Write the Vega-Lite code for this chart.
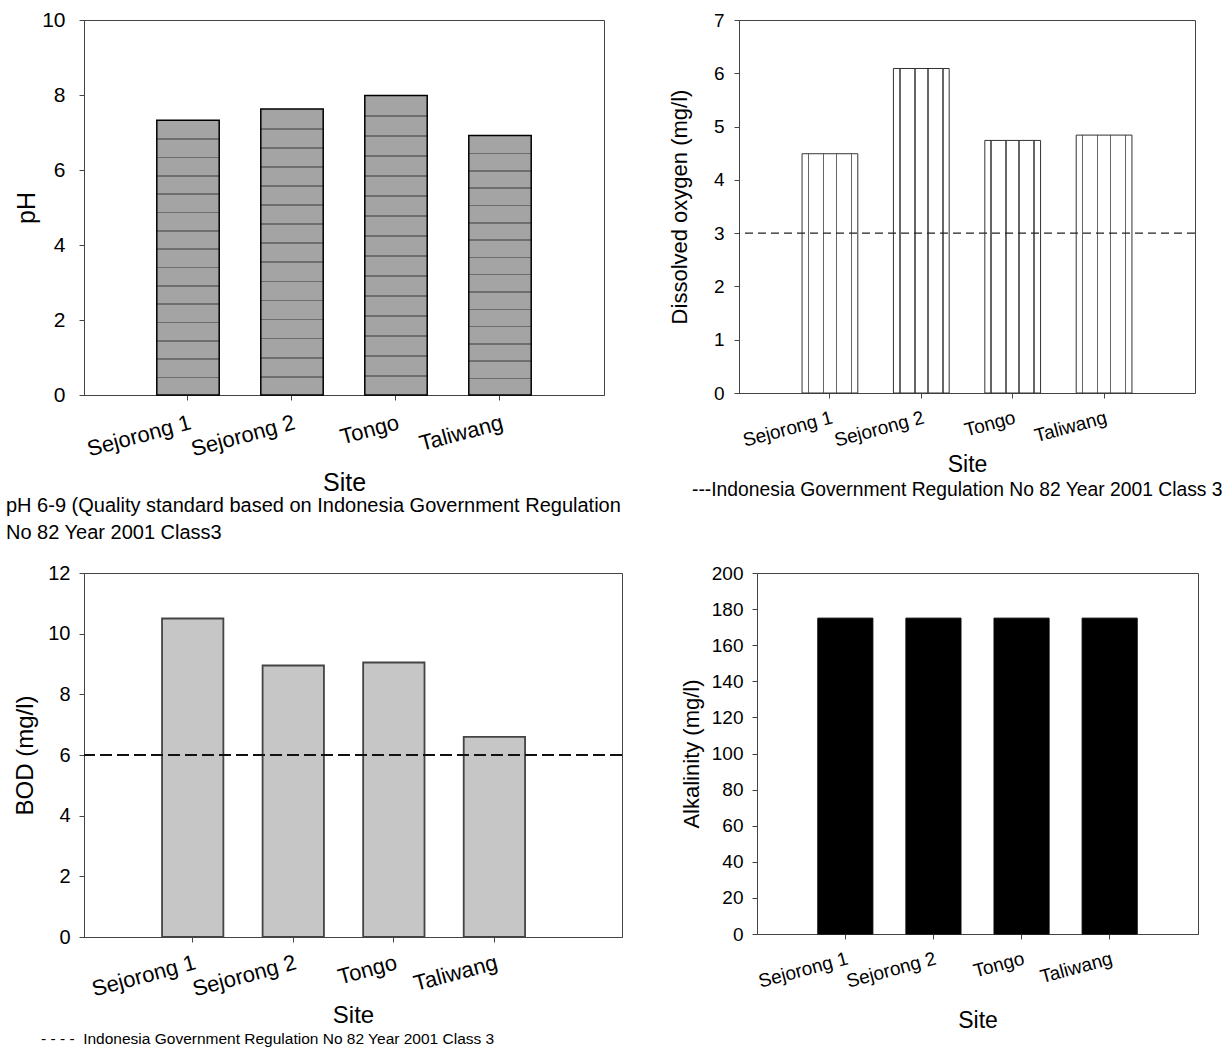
{
  "$schema": "https://vega.github.io/schema/vega-lite/v6.json",
  "background": "white",
  "padding": {"left": 5, "top": 8, "right": 5, "bottom": 5},
  "config": {
    "font": "Liberation Sans",
    "view": {"stroke": "#444", "strokeWidth": 1},
    "axis": {"grid": false, "domainColor": "#444", "tickColor": "#444", "labelColor": "black", "titleColor": "black", "titleFontWeight": "normal", "labelFont": "Liberation Sans", "titleFont": "Liberation Sans", "tickSize": 5},
    "title": {"fontWeight": "normal", "color": "black", "font": "Liberation Sans"}
  },
  "datasets": {
    "ph": [
      {"site": "Sejorong 1", "value": 7.33},
      {"site": "Sejorong 2", "value": 7.63},
      {"site": "Tongo", "value": 7.99},
      {"site": "Taliwang", "value": 6.92}
    ],
    "do": [
      {"site": "Sejorong 1", "value": 4.49},
      {"site": "Sejorong 2", "value": 6.09},
      {"site": "Tongo", "value": 4.74},
      {"site": "Taliwang", "value": 4.84}
    ],
    "bod": [
      {"site": "Sejorong 1", "value": 10.5},
      {"site": "Sejorong 2", "value": 8.95},
      {"site": "Tongo", "value": 9.05},
      {"site": "Taliwang", "value": 6.6}
    ],
    "alk": [
      {"site": "Sejorong 1", "value": 175},
      {"site": "Sejorong 2", "value": 175},
      {"site": "Tongo", "value": 175},
      {"site": "Taliwang", "value": 175}
    ],
    "do_std": [{"value": 3}],
    "bod_std": [{"value": 6}]
  },
  "spacing": 18,
  "vconcat": [
    {
      "bounds": "flush",
      "spacing": 135,
      "hconcat": [
        {
          "width": 520,
          "height": 375,
          "data": {"name": "ph"},
          "title": {"text": ["pH 6-9 (Quality standard based on Indonesia Government Regulation", "No 82 Year 2001 Class3"], "orient": "bottom", "anchor": "start", "frame": "group", "dx": -78, "fontSize": 20, "offset": 0, "lineHeight": 27},
          "mark": {"type": "bar", "stroke": "black", "strokeWidth": 1.5,
            "fill": {"gradient": "linear", "x1": 0, "x2": 0, "y1": 0, "y2": 1, "stops": [
              {"offset": 0, "color": "#a4a4a4"},
              {"offset": 0.0667, "color": "#a4a4a4"}, {"offset": 0.0667, "color": "#6e6e6e"}, {"offset": 0.0727, "color": "#6e6e6e"}, {"offset": 0.0727, "color": "#a4a4a4"},
              {"offset": 0.1333, "color": "#a4a4a4"}, {"offset": 0.1333, "color": "#6e6e6e"}, {"offset": 0.1393, "color": "#6e6e6e"}, {"offset": 0.1393, "color": "#a4a4a4"},
              {"offset": 0.2, "color": "#a4a4a4"}, {"offset": 0.2, "color": "#6e6e6e"}, {"offset": 0.206, "color": "#6e6e6e"}, {"offset": 0.206, "color": "#a4a4a4"},
              {"offset": 0.2667, "color": "#a4a4a4"}, {"offset": 0.2667, "color": "#6e6e6e"}, {"offset": 0.2727, "color": "#6e6e6e"}, {"offset": 0.2727, "color": "#a4a4a4"},
              {"offset": 0.3333, "color": "#a4a4a4"}, {"offset": 0.3333, "color": "#6e6e6e"}, {"offset": 0.3393, "color": "#6e6e6e"}, {"offset": 0.3393, "color": "#a4a4a4"},
              {"offset": 0.4, "color": "#a4a4a4"}, {"offset": 0.4, "color": "#6e6e6e"}, {"offset": 0.406, "color": "#6e6e6e"}, {"offset": 0.406, "color": "#a4a4a4"},
              {"offset": 0.4667, "color": "#a4a4a4"}, {"offset": 0.4667, "color": "#6e6e6e"}, {"offset": 0.4727, "color": "#6e6e6e"}, {"offset": 0.4727, "color": "#a4a4a4"},
              {"offset": 0.5333, "color": "#a4a4a4"}, {"offset": 0.5333, "color": "#6e6e6e"}, {"offset": 0.5393, "color": "#6e6e6e"}, {"offset": 0.5393, "color": "#a4a4a4"},
              {"offset": 0.6, "color": "#a4a4a4"}, {"offset": 0.6, "color": "#6e6e6e"}, {"offset": 0.606, "color": "#6e6e6e"}, {"offset": 0.606, "color": "#a4a4a4"},
              {"offset": 0.6667, "color": "#a4a4a4"}, {"offset": 0.6667, "color": "#6e6e6e"}, {"offset": 0.6727, "color": "#6e6e6e"}, {"offset": 0.6727, "color": "#a4a4a4"},
              {"offset": 0.7333, "color": "#a4a4a4"}, {"offset": 0.7333, "color": "#6e6e6e"}, {"offset": 0.7393, "color": "#6e6e6e"}, {"offset": 0.7393, "color": "#a4a4a4"},
              {"offset": 0.8, "color": "#a4a4a4"}, {"offset": 0.8, "color": "#6e6e6e"}, {"offset": 0.806, "color": "#6e6e6e"}, {"offset": 0.806, "color": "#a4a4a4"},
              {"offset": 0.8667, "color": "#a4a4a4"}, {"offset": 0.8667, "color": "#6e6e6e"}, {"offset": 0.8727, "color": "#6e6e6e"}, {"offset": 0.8727, "color": "#a4a4a4"},
              {"offset": 0.9333, "color": "#a4a4a4"}, {"offset": 0.9333, "color": "#6e6e6e"}, {"offset": 0.9393, "color": "#6e6e6e"}, {"offset": 0.9393, "color": "#a4a4a4"},
              {"offset": 1, "color": "#a4a4a4"}
            ]}},
          "encoding": {
            "x": {"field": "site", "type": "nominal", "sort": null, "scale": {"paddingInner": 0.4, "paddingOuter": 0.7},
              "axis": {"title": "Site", "labelAngle": -15, "labelFontSize": 22, "titleFontSize": 25, "labelPadding": 12, "titlePadding": 11}},
            "y": {"field": "value", "type": "quantitative", "scale": {"domain": [0, 10], "nice": false},
              "axis": {"values": [0, 2, 4, 6, 8, 10], "format": "d", "title": "pH", "labelFontSize": 21, "titleFontSize": 25, "labelPadding": 14, "titlePadding": 2}}
          }
        },
        {
          "width": 456,
          "height": 373,
          "title": {"text": "---Indonesia Government Regulation No 82 Year 2001 Class 3", "orient": "bottom", "anchor": "start", "frame": "group", "dx": -47, "fontSize": 19.3, "offset": 5},
          "layer": [
            {
              "data": {"name": "do"},
              "mark": {"type": "bar", "stroke": "#333", "strokeWidth": 1,
                "fill": {"gradient": "linear", "x1": 0, "x2": 1, "y1": 0, "y2": 0, "stops": [
                  {"offset": 0, "color": "white"}, {"offset": 0.1, "color": "white"},
                  {"offset": 0.1, "color": "#666"}, {"offset": 0.13, "color": "#666"},
                  {"offset": 0.13, "color": "white"}, {"offset": 0.37, "color": "white"},
                  {"offset": 0.37, "color": "#666"}, {"offset": 0.4, "color": "#666"},
                  {"offset": 0.4, "color": "white"}, {"offset": 0.6, "color": "white"},
                  {"offset": 0.6, "color": "#666"}, {"offset": 0.63, "color": "#666"},
                  {"offset": 0.63, "color": "white"}, {"offset": 0.87, "color": "white"},
                  {"offset": 0.87, "color": "#666"}, {"offset": 0.9, "color": "#666"},
                  {"offset": 0.9, "color": "white"}, {"offset": 1, "color": "white"}
                ]}},
              "encoding": {
                "x": {"field": "site", "type": "nominal", "sort": null, "scale": {"paddingInner": 0.39, "paddingOuter": 0.69},
                  "axis": {"title": "Site", "labelAngle": -15, "labelFontSize": 19, "titleFontSize": 23, "labelPadding": 10, "titlePadding": 3}},
                "y": {"field": "value", "type": "quantitative", "scale": {"domain": [0, 7], "nice": false},
                  "axis": {"values": [0, 1, 2, 3, 4, 5, 6, 7], "format": "d", "title": "Dissolved oxygen (mg/l)", "labelFontSize": 19, "titleFontSize": 22, "labelPadding": 10, "titlePadding": 22}}
              }
            },
            {
              "data": {"name": "do_std"},
              "mark": {"type": "rule", "color": "#222", "strokeWidth": 1.3, "strokeDash": [8, 5]},
              "encoding": {"y": {"field": "value", "type": "quantitative"}}
            }
          ]
        }
      ]
    },
    {
      "bounds": "flush",
      "spacing": 135,
      "hconcat": [
        {
          "width": 538,
          "height": 364,
          "title": {"text": "-\u00a0-\u00a0-\u00a0-\u00a0\u00a0Indonesia Government Regulation No 82 Year 2001 Class 3", "orient": "bottom", "anchor": "start", "frame": "group", "dx": -43, "fontSize": 15.5, "offset": 4},
          "layer": [
            {
              "data": {"name": "bod"},
              "mark": {"type": "bar", "fill": "#c6c6c6", "stroke": "#444", "strokeWidth": 1.8},
              "encoding": {
                "x": {"field": "site", "type": "nominal", "sort": null, "scale": {"paddingInner": 0.39, "paddingOuter": 0.87, "align": 0.446},
                  "axis": {"title": "Site", "labelAngle": -15, "labelFontSize": 22, "titleFontSize": 24, "labelPadding": 10, "titlePadding": 4}},
                "y": {"field": "value", "type": "quantitative", "scale": {"domain": [0, 12], "nice": false},
                  "axis": {"values": [0, 2, 4, 6, 8, 10, 12], "format": "d", "title": "BOD (mg/l)", "labelFontSize": 20, "titleFontSize": 24, "labelPadding": 9, "titlePadding": 10}}
              }
            },
            {
              "data": {"name": "bod_std"},
              "mark": {"type": "rule", "color": "#111", "strokeWidth": 2, "strokeDash": [12, 5]},
              "encoding": {"y": {"field": "value", "type": "quantitative"}}
            }
          ]
        },
        {
          "width": 441,
          "height": 361,
          "data": {"name": "alk"},
          "mark": {"type": "bar", "fill": "black", "stroke": "black", "strokeWidth": 1},
          "encoding": {
            "x": {"field": "site", "type": "nominal", "sort": null, "scale": {"paddingInner": 0.375, "paddingOuter": 0.69},
              "axis": {"title": "Site", "labelAngle": -15, "labelFontSize": 19, "titleFontSize": 23, "labelPadding": 10, "titlePadding": 18}},
            "y": {"field": "value", "type": "quantitative", "scale": {"domain": [0, 200], "nice": false},
              "axis": {"values": [0, 20, 40, 60, 80, 100, 120, 140, 160, 180, 200], "format": "d", "title": "Alkalinity (mg/l)", "labelFontSize": 19, "titleFontSize": 22, "labelPadding": 9, "titlePadding": 8}}
          }
        }
      ]
    }
  ]
}
